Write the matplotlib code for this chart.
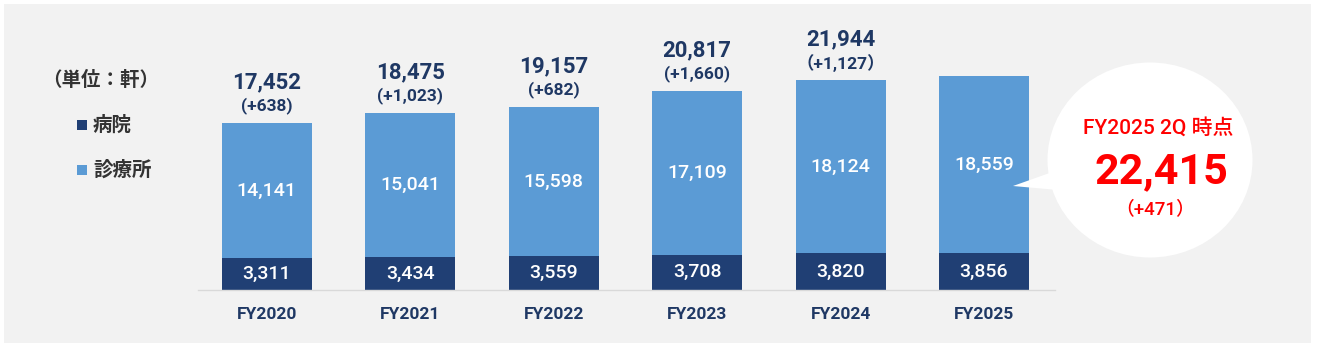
import matplotlib
matplotlib.use("Agg")
import matplotlib.pyplot as plt
from matplotlib.patches import Rectangle, Ellipse, Polygon

plt.rcParams['font.family'] = ['Roboto', 'Noto Sans CJK JP', 'DejaVu Sans']

years = ["FY2020", "FY2021", "FY2022", "FY2023", "FY2024", "FY2025"]
hospital = [3311, 3434, 3559, 3708, 3820, 3856]
clinic = [14141, 15041, 15598, 17109, 18124, 18559]
totals = [17452, 18475, 19157, 20817, 21944, 22415]
deltas = ["(+638)", "(+1,023)", "(+682)", "(+1,660)", "（+1,127）", None]

bubble_title = "FY2025 2Q 時点"
bubble_value = "22,415"
bubble_delta = "（+471）"

navy = "#203f74"
light = "#5b9bd5"
label_navy = "#1f3864"
red = "#ff0000"

W, H = 1323, 350
fig = plt.figure(figsize=(W / 100, H / 100), dpi=100)
fig.patch.set_facecolor("white")

# background panel, pixel coordinates
bg = fig.add_axes([0, 0, 1, 1], zorder=0)
bg.set_xlim(0, W)
bg.set_ylim(H, 0)
bg.axis("off")
bg.add_patch(Rectangle((4, 4), 1307, 339, facecolor="#f2f2f2", edgecolor="none"))

# bar axes
left_px, right_px, base_px, top_px = 198, 1055, 290, 5
ax = fig.add_axes([left_px / W, (H - base_px) / H, (right_px - left_px) / W,
                   (base_px - top_px) / H], zorder=1)
ax.patch.set_alpha(0)
x = list(range(len(years)))
ax.bar(x, hospital, width=0.628, color=navy)
ax.bar(x, clinic, bottom=hospital, width=0.628, color=light)
ax.set_xlim(-0.48, 5.495)
ax.set_ylim(0, 285 / 0.00956)

for s in ["top", "left", "right"]:
    ax.spines[s].set_visible(False)
ax.spines["bottom"].set_color("#d9d9d9")
ax.spines["bottom"].set_linewidth(1)
ax.set_yticks([])
ax.set_xticks(x)
ax.set_xticklabels(years, fontsize=12.5, fontweight="bold", color=label_navy)
ax.tick_params(axis="x", length=0, pad=12)

for i in x:
    ax.text(i, hospital[i] / 2, f"{hospital[i]:,}", ha="center", va="center",
            color="white", fontsize=14, fontweight="medium")
    ax.text(i, hospital[i] + clinic[i] / 2, f"{clinic[i]:,}", ha="center",
            va="center", color="white", fontsize=14, fontweight="medium")
    if deltas[i] is None:
        continue
    ax.annotate(f"{totals[i]:,}", xy=(i, totals[i]), xytext=(0, 29.5),
                textcoords="offset points", ha="center", va="center",
                fontsize=16, fontweight="bold", color=label_navy)
    ax.annotate(deltas[i], xy=(i, totals[i]), xytext=(0, 12.5),
                textcoords="offset points", ha="center", va="center",
                fontsize=12.5, fontweight="bold", color=label_navy)

# overlay for legend and bubble, pixel coordinates
ov = fig.add_axes([0, 0, 1, 1], zorder=2)
ov.set_xlim(0, W)
ov.set_ylim(H, 0)
ov.axis("off")

ov.text(101, 80, "（単位：軒）", ha="center", va="center", fontsize=14,
        fontweight="bold", color="#333333")
ov.add_patch(Rectangle((77, 120), 10, 10, facecolor=navy, edgecolor="none"))
ov.text(93, 125, "病院", ha="left", va="center", fontsize=14,
        fontweight="bold", color="#333333")
ov.add_patch(Rectangle((77, 165), 10, 10, facecolor=light, edgecolor="none"))
ov.text(93, 170, "診療所", ha="left", va="center", fontsize=14,
        fontweight="bold", color="#333333")

ov.add_patch(Ellipse((1150, 160), 205, 195, facecolor="white", edgecolor="none"))
ov.add_patch(Polygon([(1013, 186), (1058, 170), (1058, 190)], closed=True,
                     facecolor="white", edgecolor="none"))
ov.text(1158, 128, bubble_title, ha="center", va="center", fontsize=15,
        fontweight="medium", color=red)
ov.text(1161, 172, bubble_value, ha="center", va="center", fontsize=31,
        fontweight="bold", color=red)
ov.text(1155, 209, bubble_delta, ha="center", va="center", fontsize=13.5,
        fontweight="medium", color=red)

fig.savefig("out.png", dpi=100, facecolor=fig.get_facecolor())
